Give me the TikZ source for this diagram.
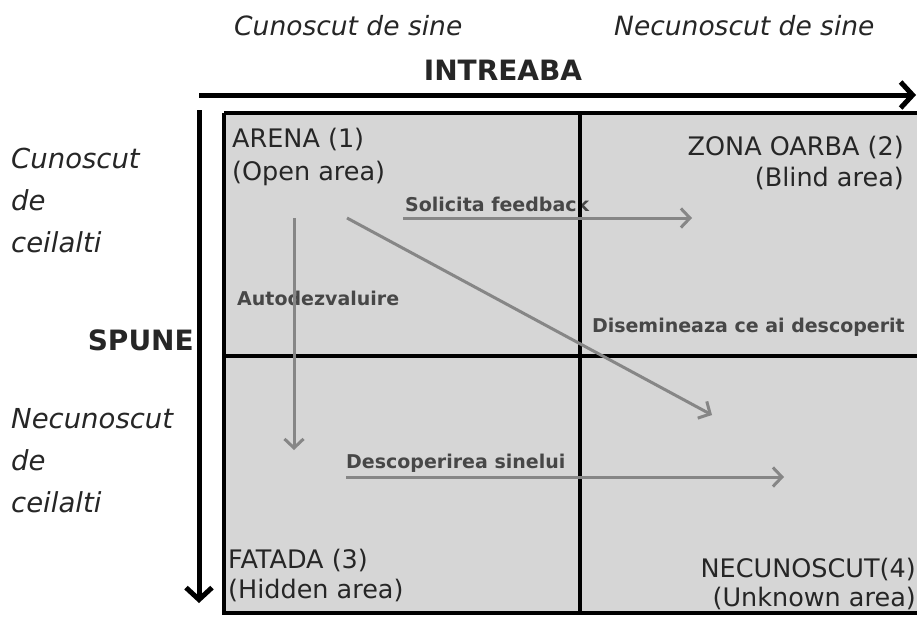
\documentclass[tikz,border=0pt]{standalone}
\usepackage{fontspec}
\setmainfont{DejaVu Sans}
\usetikzlibrary{arrows.meta}
\definecolor{quadfill}{HTML}{D6D6D6}
\definecolor{arrowgray}{HTML}{868686}
\definecolor{labelgray}{HTML}{474747}
\definecolor{txt}{HTML}{262626}
\begin{document}
\begin{tikzpicture}[x=1pt,y=-1pt,
  quad/.style={fill=quadfill, draw=none, anchor=north west, inner sep=0, outer sep=0},
  gridline/.style={line width=3.4pt, black},
  axis/.style={line width=5pt, black, -{Straight Barb[length=12pt,width=26pt]}},
  garrow/.style={line width=3pt, arrowgray, -{Straight Barb[length=9pt,width=19pt]}},
  maintxt/.style={inner sep=0, text=txt, font=\fontsize{25.5}{28}\selectfont},
  sidetxt/.style={inner sep=0, text=txt, font=\fontsize{26.5}{30}\selectfont\itshape},
  lefttxt/.style={inner sep=0, text=txt, font=\fontsize{27.5}{30}\selectfont\itshape},
  boldlbl/.style={inner sep=0, text=labelgray, font=\fontsize{19}{22}\selectfont\bfseries},
  axislbl/.style={inner sep=0, text=txt, font=\fontsize{28}{30}\selectfont\bfseries}]
\useasboundingbox (0,0) rectangle (917,616);
\fill[white] (0,0) rectangle (917,616);

% quadrants
\node[quad, minimum width=356pt, minimum height=243pt] (q1) at (224,113) {};
\node[quad, minimum width=340pt, minimum height=243pt] (q2) at (580,113) {};
\node[quad, minimum width=356pt, minimum height=257pt] (q3) at (224,356) {};
\node[quad, minimum width=340pt, minimum height=257pt] (q4) at (580,356) {};

% top labels
\node[sidetxt, anchor=base west] (ks) at (234,35) {Cunoscut de sine};
\node[sidetxt, anchor=base west] (nks) at (614,35) {Necunoscut de sine};
\node[axislbl, anchor=base] (intreaba) at (503,80) {INTREABA};

% left labels
\node[lefttxt, anchor=base west] (c1) at (11,168) {Cunoscut};
\node[lefttxt, anchor=base west] (c2) at (11,210) {de};
\node[lefttxt, anchor=base west] (c3) at (11,252) {ceilalti};
\node[axislbl, anchor=base east] (spune) at (194,350) {SPUNE};
\node[lefttxt, anchor=base west] (n1) at (11,428) {Necunoscut};
\node[lefttxt, anchor=base west] (n2) at (11,470) {de};
\node[lefttxt, anchor=base west] (n3) at (11,512) {ceilalti};

% quadrant titles
\node[maintxt, anchor=base west] (a1) at (232,147) {ARENA (1)};
\node[maintxt, anchor=base west] (a2) at (232,180) {(Open area)};
\node[maintxt, anchor=base east] (b1) at (904,155) {ZONA OARBA (2)};
\node[maintxt, anchor=base east] (b2) at (904,186) {(Blind area)};
\node[maintxt, anchor=base west] (f1) at (228,568) {FATADA (3)};
\node[maintxt, anchor=base west] (f2) at (228,598) {(Hidden area)};
\node[maintxt, anchor=base east] (u1) at (916,577) {NECUNOSCUT(4)};
\node[maintxt, anchor=base east] (u2) at (916,606) {(Unknown area)};

% process labels
\node[boldlbl, anchor=base west] (sf) at (405,211) {Solicita feedback};
\node[boldlbl, anchor=base west] (ad) at (237,305) {Autodezvaluire};
\node[boldlbl, anchor=base east] (dc) at (905,332) {Disemineaza ce ai descoperit};
\node[boldlbl, anchor=base west] (ds) at (346,468) {Descoperirea sinelui};

% grid
\draw[gridline] (q1.north west) -- (q2.north east);
\draw[gridline] (q1.north west) -- (q3.south west) -- (q4.south east);
\draw[gridline] (q1.north east) -- (q3.south east);
\draw[gridline] (q1.south west) -- (q2.south east);

% axes
\coordinate (hs) at (199,95);
\coordinate (he) at (916,95);
\coordinate (vs) at (199,110);
\coordinate (ve) at (199,603);
\draw[axis] (hs) -- (he);
\draw[axis] (vs) -- (ve);

% gray process arrows
\coordinate (sfs) at (403,218);
\coordinate (sfe) at (692,218);
\coordinate (dgs) at (347,218);
\coordinate (dge) at (712,415);
\coordinate (vds) at (294,218);
\coordinate (vde) at (294,450);
\coordinate (dss) at (346,477);
\coordinate (dse) at (784,477);
\draw[garrow] (sfs) -- (sfe);
\draw[garrow] (dgs) -- (dge);
\draw[garrow] (vds) -- (vde);
\draw[garrow] (dss) -- (dse);
\end{tikzpicture}
\end{document}
